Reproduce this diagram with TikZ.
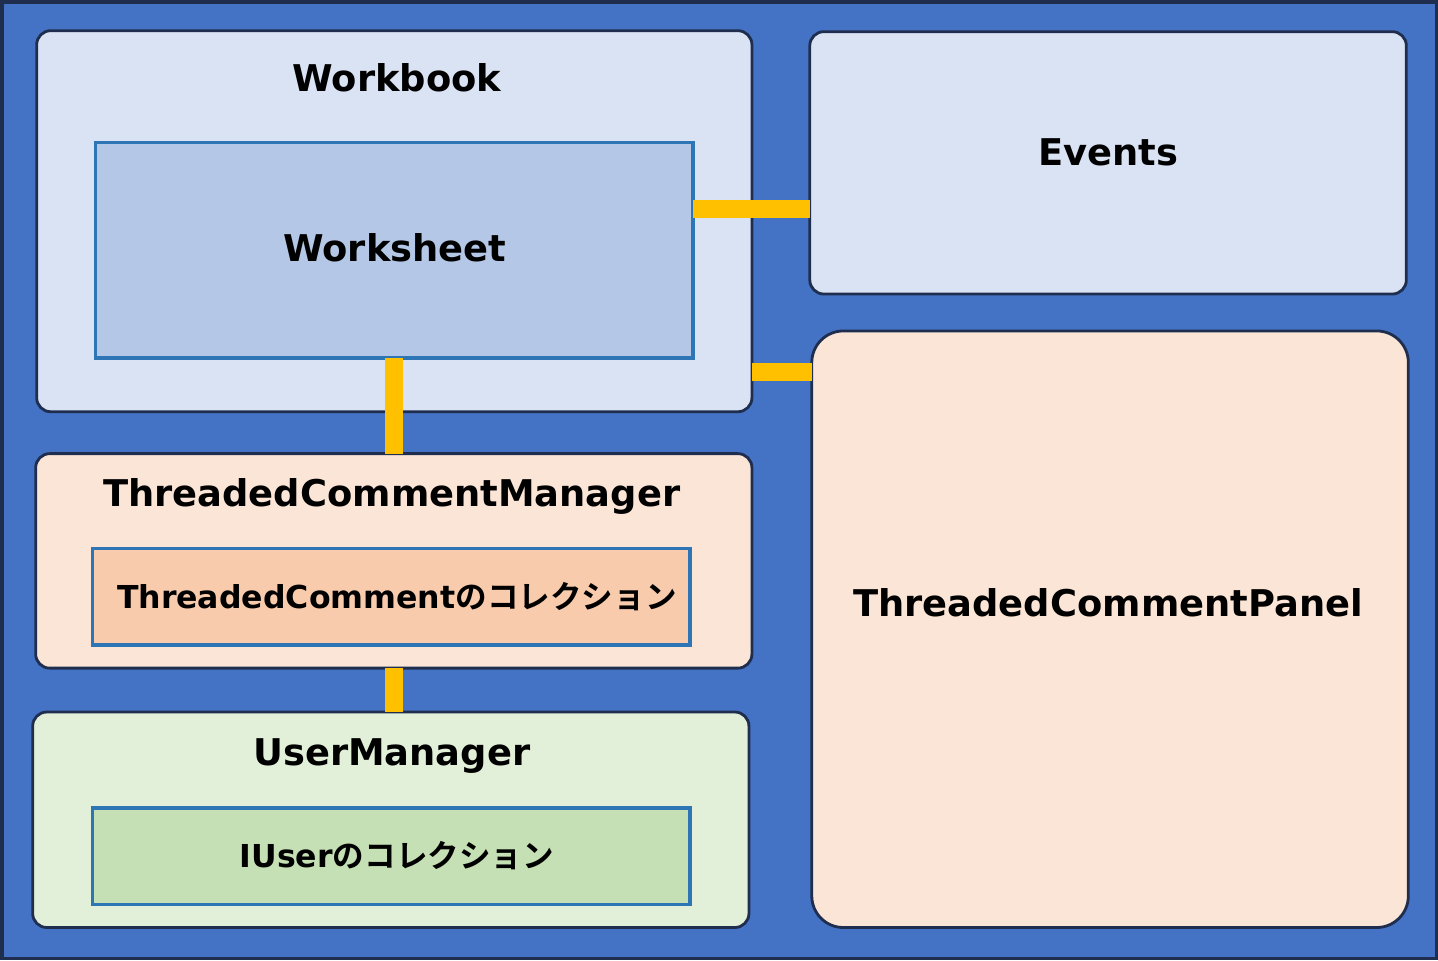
\documentclass[tikz,border=0pt]{standalone}
\usepackage{fontspec}
\setmainfont{DejaVu Sans}
\newfontfamily\jp{Noto Sans CJK JP}[BoldFont={Noto Sans CJK JP Bold}]
\usetikzlibrary{positioning}
\definecolor{bgblue}{HTML}{4472C4}
\definecolor{navy}{HTML}{1F2E4F}
\definecolor{lineblue}{HTML}{2E75B6}
\definecolor{lightblue}{HTML}{DAE3F3}
\definecolor{midblue}{HTML}{B4C7E7}
\definecolor{lightpeach}{HTML}{FBE5D6}
\definecolor{peach}{HTML}{F8CBAD}
\definecolor{lightgreen}{HTML}{E2F0D9}
\definecolor{midgreen}{HTML}{C5E0B4}
\definecolor{linkyellow}{HTML}{FFC000}
\begin{document}
\begin{tikzpicture}[x=0.01cm,y=-0.01cm]
  \tikzset{
    outerbox/.style={draw=navy, line width=0.8pt, rounded corners=4pt, inner sep=0pt},
    innerbox/.style={draw=lineblue, line width=1pt, inner sep=0pt},
    title/.style={font=\bfseries\fontsize{10.5}{12}\selectfont},
    subtitle/.style={font=\bfseries\fontsize{9}{11}\selectfont},
    link/.style={linkyellow, line width=5.2pt},
  }
  % background
  \fill[bgblue, draw=navy, line width=1pt] (0,0) rectangle (1438,959);

  % boxes
  \draw[outerbox, fill=lightblue] (35,29) rectangle (752,411);
  \coordinate (workbookE) at (752,371);
  \draw[innerbox, fill=midblue] (94,141) rectangle (693,357);
  \coordinate (worksheetE) at (693,208);
  \coordinate (worksheetS) at (393,357);
  \draw[outerbox, fill=lightblue] (810,30) rectangle (1408,293);
  \coordinate (eventsW) at (810,208);
  \draw[outerbox, rounded corners=9pt, fill=lightpeach] (812,330) rectangle (1410,928);
  \coordinate (panelW) at (812,371);
  \draw[outerbox, fill=lightpeach] (34,453) rectangle (752,668);
  \coordinate (managerN) at (393,453);
  \coordinate (managerS) at (393,668);
  \draw[innerbox, fill=peach] (91,548) rectangle (690,645);
  \draw[outerbox, fill=lightgreen] (31,712) rectangle (749,928);
  \coordinate (usersN) at (393,712);
  \draw[innerbox, fill=midgreen] (91,808) rectangle (690,905);

  % links
  \draw[link] (worksheetE) -- (eventsW);
  \draw[link] (workbookE) -- (panelW);
  \draw[link] (worksheetS) -- (managerN);
  \draw[link] (managerS) -- (usersN);

  % labels
  \node[title] (workbook) at (396,76) {Workbook};
  \node[title] (worksheet) at (394,247) {Worksheet};
  \node[title] (events) at (1109,151) {Events};
  \node[title] (panel) at (1109,602) {ThreadedCommentPanel};
  \node[title] (manager) at (391,496) {ThreadedCommentManager};
  \node[subtitle] (comments) at (396,596) {ThreadedComment{\jp\bfseries のコレクション}};
  \node[title] (users) at (391,756) {UserManager};
  \node[subtitle] (userlist) at (396,856) {IUser{\jp\bfseries のコレクション}};
\end{tikzpicture}
\end{document}
